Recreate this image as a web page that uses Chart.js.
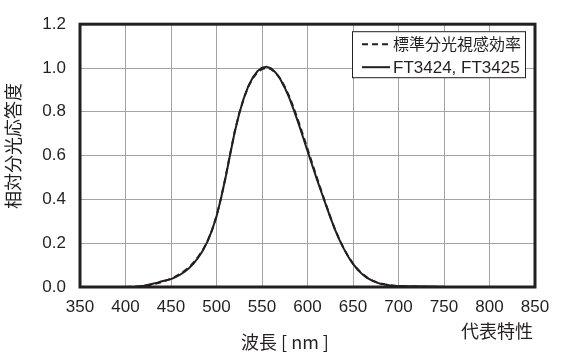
<!DOCTYPE html>
<html>
<head>
<meta charset="utf-8">
<script src="https://cdn.jsdelivr.net/npm/chart.js@4.4.1/dist/chart.umd.min.js"></script>
<style>
  html, body { margin: 0; padding: 0; background: #fff; }
  #wrap { width: 561px; height: 363px; }
</style>
</head>
<body>
<div id="wrap"><canvas id="myChart"></canvas></div>
<script>
  // Data
  const wavelengths = [400, 405, 410, 415, 420, 425, 430, 435, 440, 445, 450, 455, 460, 465, 470, 475, 480, 485, 490, 495,
    500, 505, 510, 515, 520, 525, 530, 535, 540, 545, 550, 555, 560, 565, 570, 575, 580, 585, 590, 595,
    600, 605, 610, 615, 620, 625, 630, 635, 640, 645, 650, 655, 660, 665, 670, 675, 680, 685, 690, 695,
    700, 705, 710, 715, 720, 725, 730, 735, 740, 745, 750]
  const luminosity = [0.000, 0.001, 0.001, 0.002, 0.004, 0.007, 0.012, 0.017, 0.023, 0.030, 0.038, 0.048, 0.060, 0.074, 0.091, 0.113, 0.139, 0.169, 0.208, 0.259,
    0.323, 0.407, 0.503, 0.608, 0.710, 0.793, 0.862, 0.915, 0.954, 0.980, 0.995, 1.000, 0.995, 0.979, 0.952, 0.915, 0.870, 0.816, 0.757, 0.695,
    0.631, 0.567, 0.503, 0.441, 0.381, 0.321, 0.265, 0.217, 0.175, 0.138, 0.107, 0.082, 0.061, 0.045, 0.032, 0.023, 0.017, 0.012, 0.008, 0.006,
    0.004, 0.003, 0.002, 0.001, 0.001, 0.001, 0.001, 0.000, 0.000, 0.000, 0.000]
  const ftResponse = [0.000, 0.000, 0.001, 0.003, 0.006, 0.010, 0.015, 0.020, 0.026, 0.031, 0.036, 0.045, 0.056, 0.070, 0.087, 0.108, 0.135, 0.167, 0.207, 0.258,
    0.322, 0.405, 0.500, 0.605, 0.707, 0.792, 0.862, 0.917, 0.958, 0.985, 1.002, 1.006, 0.998, 0.979, 0.950, 0.910, 0.864, 0.808, 0.748, 0.685,
    0.621, 0.558, 0.496, 0.436, 0.377, 0.319, 0.264, 0.216, 0.174, 0.137, 0.106, 0.080, 0.059, 0.043, 0.031, 0.022, 0.015, 0.011, 0.008, 0.006,
    0.004, 0.004, 0.003, 0.003, 0.003, 0.002, 0.002, 0.002, 0.002, 0.001, 0.001]
  const seriesNames = ['標準分光視感効率', 'FT3424, FT3425']
  const xTitle = '波長 [ nm ]'
  const yTitle = '相対分光応答度'
  const noteText = '代表特性'

  const ink = '#231f20'
  const latin = '"Liberation Sans", Arial, sans-serif'
  const cjk = '"Noto Sans CJK JP", "Liberation Sans", sans-serif'

  const toPoints = (ys) => wavelengths.map((x, i) => ({ x, y: ys[i] }))

  // frame, legend box and titles
  const decorPlugin = {
    id: 'decor',
    afterDatasetsDraw(chart) {
      const { ctx, chartArea: a } = chart
      ctx.save()
      ctx.strokeStyle = ink
      ctx.lineWidth = 3
      ctx.strokeRect(a.left, a.top, a.right - a.left, a.bottom - a.top)

      // legend
      const bw = 173, bh = 46
      const bx = a.right - 10 - bw, by = a.top + 7
      ctx.fillStyle = '#fff'
      ctx.fillRect(bx, by, bw, bh)
      ctx.lineWidth = 1
      ctx.strokeRect(bx + 0.5, by + 0.5, bw, bh)
      const rows = [by + 13, by + 36]
      ctx.lineWidth = 2
      rows.forEach((ry, i) => {
        ctx.setLineDash(i === 0 ? [6, 4] : [])
        ctx.beginPath()
        ctx.moveTo(bx + 10, ry)
        ctx.lineTo(bx + 38, ry)
        ctx.stroke()
      })
      ctx.setLineDash([])
      ctx.fillStyle = ink
      ctx.textBaseline = 'middle'
      ctx.textAlign = 'left'
      ctx.font = '16px ' + cjk
      ctx.fillText(seriesNames[0], bx + 41, rows[0])
      ctx.font = '17px ' + latin
      ctx.fillText(seriesNames[1], bx + 41, rows[1] + 1)

      // axis titles
      ctx.font = '18px ' + cjk
      ctx.textAlign = 'center'
      ctx.fillText(xTitle, 285, 342)
      ctx.fillText(noteText, 497, 331)
      ctx.translate(13, 146)
      ctx.rotate(-Math.PI / 2)
      ctx.fillText(yTitle, 0, 0)
      ctx.restore()
    }
  }

  const ctx = document.getElementById('myChart')
  new Chart(ctx, {
    type: 'line',
    data: {
      datasets: [{
        label: seriesNames[0],
        data: toPoints(luminosity),
        borderColor: ink,
        borderWidth: 2,
        borderDash: [6, 4],
        pointRadius: 0,
        fill: false
      }, {
        label: seriesNames[1],
        data: toPoints(ftResponse),
        borderColor: ink,
        borderWidth: 2,
        pointRadius: 0,
        fill: false
      }]
    },
    options: {
      responsive: true,
      maintainAspectRatio: false,
      animation: false,
      devicePixelRatio: 1,
      layout: { padding: { left: 0, right: 26, top: 22, bottom: 0 } },
      plugins: {
        legend: { display: false },
        tooltip: { enabled: false }
      },
      scales: {
        x: {
          type: 'linear',
          min: 350,
          max: 850,
          afterFit: (s) => { s.height = 76 },
          ticks: { stepSize: 50, color: ink, padding: 10, font: { family: latin, size: 17 } },
          grid: { color: '#a3a3a3', lineWidth: 1, drawTicks: false },
          border: { display: false }
        },
        y: {
          min: 0,
          max: 1.2,
          afterFit: (s) => { s.width = 80 },
          ticks: {
            stepSize: 0.1,
            color: ink,
            padding: 14,
            font: { family: latin, size: 17 },
            callback: (v) => Math.round(v * 10) % 2 === 0 ? v.toFixed(1) : ''
          },
          grid: { color: '#a3a3a3', lineWidth: 1, drawTicks: false },
          border: { display: false }
        }
      }
    },
    plugins: [decorPlugin]
  })
</script>
</body>
</html>
